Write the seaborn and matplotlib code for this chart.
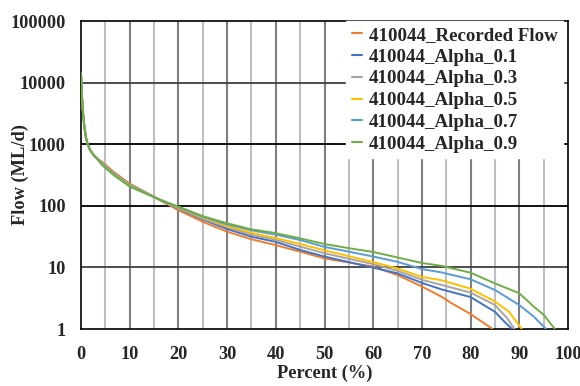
import numpy as np
import pandas as pd
import matplotlib
matplotlib.use("Agg")
import matplotlib.pyplot as plt
import seaborn as sns
from matplotlib.ticker import FixedLocator, FuncFormatter, NullLocator

# ---- data ----
series_names = ["410044_Recorded Flow", "410044_Alpha_0.1", "410044_Alpha_0.3",
                "410044_Alpha_0.5", "410044_Alpha_0.7", "410044_Alpha_0.9"]
colors = ["#ED7D31", "#4472C4", "#A5A5A5", "#FFC000", "#5B9BD5", "#70AD47"]

head_pct = [0, 0.1, 0.2, 0.35, 0.5, 0.7, 1.0, 1.3, 1.8, 2.5, 3.3]
head_flow = [14000, 9000, 6000, 3800, 2700, 1900, 1300, 1050, 820, 680, 580]

pct_recorded = head_pct + [4.3, 6.6, 10, 13.5, 16.3, 20, 25, 30, 35, 40, 45, 50, 55, 60, 65, 70, 74, 76, 80, 84.5]
flow_recorded = head_flow + [520, 360, 228, 163, 122, 85, 55, 38, 28.6, 23, 18, 14, 12, 10.3, 7.5, 4.9, 3.35, 2.65, 1.75, 1.0]

pct_a01 = head_pct + [4.3, 6.6, 10, 13.5, 16.3, 20, 25, 30, 35, 40, 45, 50, 55, 60, 65, 70, 74, 80, 85, 87, 88.5]
flow_a01 = head_flow + [500, 345, 220, 160, 123, 90, 60, 42, 31.5, 26, 19.2, 15, 12.2, 9.9, 8.0, 5.6, 4.4, 3.3, 1.9, 1.3, 1.0]

pct_a03 = head_pct + [4.3, 6.6, 10, 13.5, 16.3, 20, 25, 30, 35, 40, 45, 50, 55, 60, 65, 70, 74, 80, 85, 87.5, 89]
flow_a03 = head_flow + [495, 340, 218, 160, 124, 92, 62, 45, 34, 28, 21.7, 17, 13.8, 11.3, 8.8, 6.3, 5.2, 3.9, 2.45, 1.5, 1.0]

pct_a05 = head_pct + [4.3, 6.6, 10, 13.5, 16.3, 20, 25, 30, 35, 40, 45, 50, 55, 60, 65, 70, 74, 80, 85, 87.9, 90.5]
flow_a05 = head_flow + [490, 335, 215, 158, 124, 93, 64, 47, 36.5, 30, 24, 19, 15.2, 12.2, 9.6, 7.0, 6.2, 4.5, 2.8, 1.9, 1.0]

pct_a07 = head_pct + [4.3, 6.6, 10, 13.5, 16.3, 20, 25, 30, 35, 40, 45, 50, 55, 60, 65, 70, 74, 80, 85, 90, 93, 95.5]
flow_a07 = head_flow + [480, 328, 210, 157, 125, 95, 66, 50, 40, 34, 27.8, 21.5, 18, 15, 12.3, 9.4, 8.3, 6.4, 4.3, 2.45, 1.58, 1.0]

pct_a09 = head_pct + [4.3, 6.6, 10, 13.5, 16.3, 20, 25, 30, 35, 40, 45, 50, 55, 60, 65, 70, 74, 80, 85, 90, 93, 95, 97.3]
flow_a09 = head_flow + [460, 320, 205, 155, 125, 97, 68, 52, 41.5, 36, 29.6, 24, 20.5, 17.8, 14.5, 11.8, 10.6, 8.2, 5.5, 3.8, 2.3, 1.7, 1.0]

x_ticks = [0, 10, 20, 30, 40, 50, 60, 70, 80, 90, 100]
y_ticks = [1, 10, 100, 1000, 10000, 100000]

all_pct = [pct_recorded, pct_a01, pct_a03, pct_a05, pct_a07, pct_a09]
all_flow = [flow_recorded, flow_a01, flow_a03, flow_a05, flow_a07, flow_a09]

frames = []
for name, p, f in zip(series_names, all_pct, all_flow):
    frames.append(pd.DataFrame({"Percent": p, "Flow": f, "Series": name}))
df = pd.concat(frames, ignore_index=True)

# ---- plot ----
sns.set_style("white")
plt.rcParams["font.family"] = ["Liberation Serif", "DejaVu Serif"]
plt.rcParams["font.weight"] = "bold"

FS = 13.2
fig = plt.figure(figsize=(5.8, 3.86), dpi=100)
ax = fig.add_axes([81 / 580, 1 - 329 / 386, (568 - 81) / 580, (329 - 21) / 386])

ax.set_yscale("log")
ax.set_xlim(0, 100)
ax.set_ylim(1, 100000)

# grid lines
for xv in range(5, 100, 5):
    ax.axvline(xv, color="#7f7f7f" if xv % 10 == 0 else "#bfbfbf", lw=1.5, zorder=0)
for yv in [10, 100, 1000, 10000]:
    ax.axhline(yv, color="#404040" if yv in (10, 10000) else "#000000", lw=1.3, zorder=0)

sns.lineplot(data=df, x="Percent", y="Flow", hue="Series", hue_order=series_names,
             palette=colors, sort=False, estimator=None, lw=1.4, ax=ax, zorder=3)

ax.xaxis.set_major_locator(FixedLocator(x_ticks))
ax.yaxis.set_major_locator(FixedLocator(y_ticks))
ax.yaxis.set_minor_locator(NullLocator())
ax.yaxis.set_major_formatter(FuncFormatter(lambda v, pos: f"{int(round(v))}"))
ax.tick_params(axis="y", which="both", length=0, labelsize=FS, pad=11)
ax.tick_params(axis="x", which="both", length=0, labelsize=FS, pad=12)
for lab in ax.get_xticklabels() + ax.get_yticklabels():
    lab.set_fontweight("bold")

for s in ax.spines.values():
    s.set_visible(True)
    s.set_color("black")
    s.set_linewidth(1.2)

ax.set_xlabel("Percent (%)", fontsize=FS, fontweight="bold")
ax.set_ylabel("Flow (ML/d)", fontsize=FS, fontweight="bold")
ax.xaxis.set_label_coords(0.5, (329 - 365) / 308)
ax.yaxis.set_label_coords((29 - 81) / 487, 0.5)

leg = ax.legend(loc="upper right", bbox_to_anchor=(1.0 - 5 / 487, 1.0), borderaxespad=0,
                frameon=True, fancybox=False, framealpha=1, edgecolor="white",
                facecolor="white", prop={"size": 13.6, "weight": "bold"},
                handlelength=0.55, handletextpad=0.35, labelspacing=0.24,
                borderpad=0.3)
for line in leg.get_lines():
    line.set_linewidth(1.5)
leg.set_zorder(5)

fig.savefig("out.png", dpi=100)
